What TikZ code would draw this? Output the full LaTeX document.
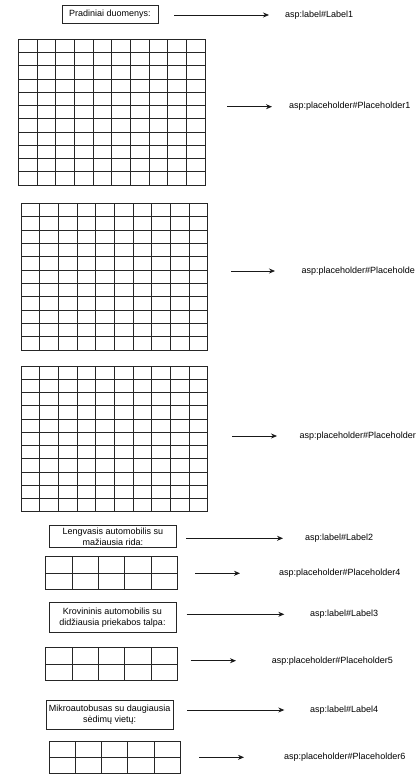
\documentclass[tikz,border=0pt]{standalone}
\usepackage{fontspec}
\setmainfont{Liberation Sans}
\usepackage{tikz}
\usetikzlibrary{calc, arrows.meta}

\tikzset{
	labelbox/.style = {draw=black!85, line width=0.8pt, rectangle, align=center,
		inner sep=1pt, font=\fontsize{9}{11}\selectfont},
	cellbox/.style = {draw=black!85, line width=0.8pt, rectangle, anchor=north west,
		outer sep=0pt, inner sep=0pt},
	aspname/.style = {anchor=west, inner sep=0pt, font=\fontsize{9}{11}\selectfont},
	link/.style = {-{Stealth[length=6pt, width=5pt]}, line width=0.7pt, black!90},
}

% cells inside a grid node: #1 node, #2 columns, #3 rows
\newcommand{\drawcells}[3]{%
	\pgfmathtruncatemacro{\lastcol}{#2-1}
	\pgfmathtruncatemacro{\lastrow}{#3-1}
	\foreach \i in {1,...,\lastcol}
		\draw[black!85, line width=0.7pt] ($(#1.north west)!\i/#2!(#1.north east)$)
			-- ($(#1.south west)!\i/#2!(#1.south east)$);
	\foreach \j in {1,...,\lastrow}
		\draw[black!85, line width=0.7pt] ($(#1.north west)!\j/#3!(#1.south west)$)
			-- ($(#1.north east)!\j/#3!(#1.south east)$);
}

\begin{document}
\begin{tikzpicture}[x=1pt, y=-1pt]
	\useasboundingbox (0,0) rectangle (416,784);

	% labels and grids on the left
	\node[labelbox, minimum width=96pt, minimum height=18.3pt] (label1) at (110,14.2)
		{Pradiniai duomenys:};
	\node[cellbox, minimum width=186.7pt, minimum height=145.7pt] (grid1) at (18.3,39.3) {};
	\node[cellbox, minimum width=186.7pt, minimum height=146.7pt] (grid2) at (21,203.3) {};
	\node[cellbox, minimum width=186.7pt, minimum height=145.7pt] (grid3) at (21,366) {};
	\node[labelbox, minimum width=127.7pt, minimum height=22pt] (label2) at (112.8,536.7)
		{Lengvasis automobilis su\\mažiausia rida:};
	\node[cellbox, minimum width=131.6pt, minimum height=32.6pt] (grid4) at (45.7,556.7) {};
	\node[labelbox, minimum width=127pt, minimum height=29.6pt] (label3) at (112.5,617.5)
		{Krovininis automobilis su\\didžiausia priekabos talpa:};
	\node[cellbox, minimum width=131.6pt, minimum height=33.4pt] (grid5) at (45.7,647.3) {};
	\node[labelbox, minimum width=127.3pt, minimum height=29.3pt] (label4) at (109.7,714.7)
		{Mikroautobusas su daugiausia\\sėdimų vietų:};
	\node[cellbox, minimum width=131.3pt, minimum height=31.6pt] (grid6) at (49,741.7) {};

	\drawcells{grid1}{10}{11}
	\drawcells{grid2}{10}{11}
	\drawcells{grid3}{10}{11}
	\drawcells{grid4}{5}{2}
	\drawcells{grid5}{5}{2}
	\drawcells{grid6}{5}{2}

	% names on the right
	\node[aspname] (name1)  at (285,15)    {asp:label\#Label1};
	\node[aspname] (name2)  at (289,106)   {asp:placeholder\#Placeholder1};
	\node[aspname] (name3)  at (301.5,271) {asp:placeholder\#Placeholde};
	\node[aspname] (name4)  at (299.5,436) {asp:placeholder\#Placeholder};
	\node[aspname] (name5)  at (305,538)   {asp:label\#Label2};
	\node[aspname] (name6)  at (279,573)   {asp:placeholder\#Placeholder4};
	\node[aspname] (name7)  at (310,614)   {asp:label\#Label3};
	\node[aspname] (name8)  at (271.7,661) {asp:placeholder\#Placeholder5};
	\node[aspname] (name9)  at (310,710)   {asp:label\#Label4};
	\node[aspname] (name10) at (284,757)   {asp:placeholder\#Placeholder6};

	% arrow ends
	\coordinate (from1)  at (174,15);    \coordinate (to1)  at (269,15);
	\coordinate (from2)  at (227,106.7); \coordinate (to2)  at (272,106.7);
	\coordinate (from3)  at (231,271);   \coordinate (to3)  at (275,271);
	\coordinate (from4)  at (232,436);   \coordinate (to4)  at (277,436);
	\coordinate (from5)  at (186,538.3); \coordinate (to5)  at (283,538.3);
	\coordinate (from6)  at (195,573.3); \coordinate (to6)  at (240,573.3);
	\coordinate (from7)  at (186.7,614.3); \coordinate (to7)  at (284.3,614.3);
	\coordinate (from8)  at (190.7,660.7); \coordinate (to8)  at (236,660.7);
	\coordinate (from9)  at (187.3,710); \coordinate (to9)  at (284.3,710);
	\coordinate (from10) at (199,757.3); \coordinate (to10) at (244,757.3);

	\draw[link] (from1) -- (to1);
	\draw[link] (from2) -- (to2);
	\draw[link] (from3) -- (to3);
	\draw[link] (from4) -- (to4);
	\draw[link] (from5) -- (to5);
	\draw[link] (from6) -- (to6);
	\draw[link] (from7) -- (to7);
	\draw[link] (from8) -- (to8);
	\draw[link] (from9) -- (to9);
	\draw[link] (from10) -- (to10);
\end{tikzpicture}
\end{document}
